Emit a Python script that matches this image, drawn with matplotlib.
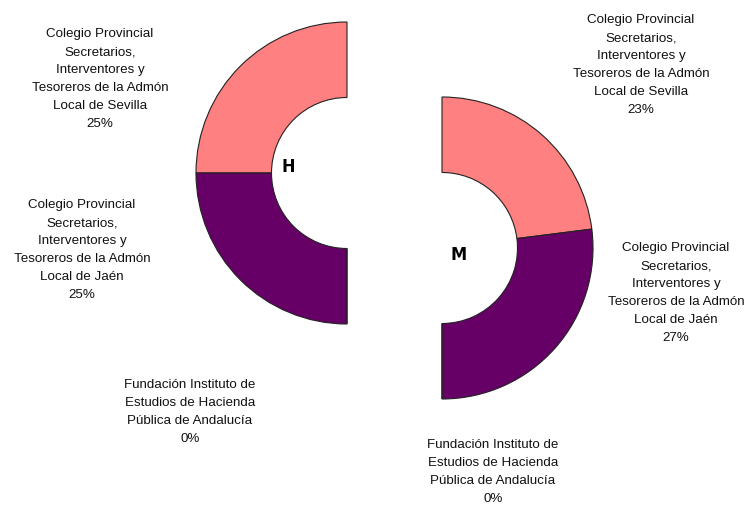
import matplotlib
matplotlib.use('Agg')
import matplotlib.pyplot as plt

plt.rcParams['font.family'] = ['Liberation Sans', 'DejaVu Sans']

# categories and shares (percent) for each donut
categories = ['Colegio Provincial\nSecretarios,\nInterventores y\nTesoreros de la Admón\nLocal de Sevilla',
              'Colegio Provincial\nSecretarios,\nInterventores y\nTesoreros de la Admón\nLocal de Jaén',
              'Fundación Instituto de\nEstudios de Hacienda\nPública de Andalucía']
values_h = [25, 25, 0]
values_m = [23, 27, 0]
colors = ['#FF8080', '#660066', '#FFFFCC']

W, H = 746, 507
fig = plt.figure(figsize=(W / 100, H / 100), dpi=100)
ax = fig.add_axes([0, 0, 1, 1])

R = 151
wp = dict(width=R * 0.5, edgecolor='#222222', linewidth=0.8)

# H donut, left half, counter clockwise from the top
ax.pie([v / 100 for v in values_h], colors=colors, radius=R, center=(347, H - 173),
       startangle=90, counterclock=True, normalize=False, wedgeprops=wp)
# M donut, right half, clockwise from the top
ax.pie([v / 100 for v in values_m], colors=colors, radius=R, center=(442, H - 248),
       startangle=90, counterclock=False, normalize=False, wedgeprops=wp)

ax.set_xlim(0, W)
ax.set_ylim(0, H)
ax.set_aspect('equal')
ax.axis('off')

txt = dict(ha='center', va='center', fontsize=9.6, color='#111111', linespacing=1.65)
label_pos_h = [(100, H - 79), (82, H - 250), (190, H - 412)]
label_pos_m = [(641, H - 65), (676, H - 293), (493, H - 472)]
for name, v, (x, y) in zip(categories, values_h, label_pos_h):
    ax.text(x, y, f'{name}\n{v}%', **txt)
for name, v, (x, y) in zip(categories, values_m, label_pos_m):
    ax.text(x, y, f'{name}\n{v}%', **txt)

big = dict(ha='center', va='center', fontsize=13, fontweight='bold',
           fontstretch='condensed', family='DejaVu Sans', color='black')
ax.text(288, H - 167, 'H', **big)
ax.text(459, H - 255, 'M', **big)

fig.savefig('out.png', dpi=100)
